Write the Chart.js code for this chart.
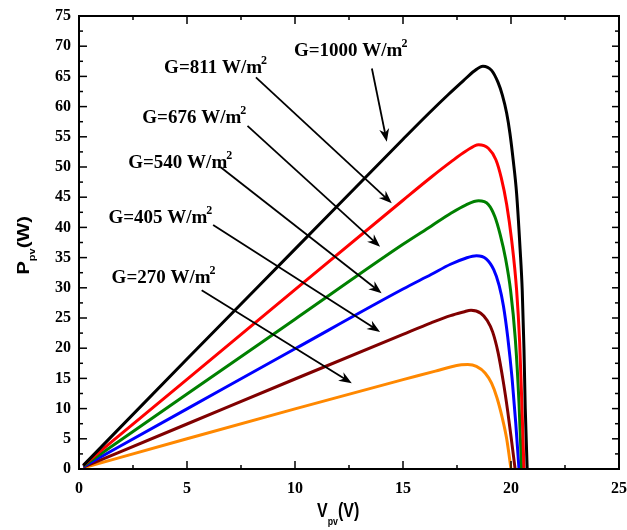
<!DOCTYPE html>
<html><head><meta charset="utf-8">
<script src="https://cdn.jsdelivr.net/npm/chart.js@4.4.0/dist/chart.umd.min.js"></script>
<style>html,body{margin:0;padding:0;background:#fff}canvas{display:block}</style>
</head><body>
<canvas id="c" width="627" height="530"></canvas>
<script>
// ---- tick labels ----
const xTicks = [0, 5, 10, 15, 20, 25];
const yTicks = [0, 5, 10, 15, 20, 25, 30, 35, 40, 45, 50, 55, 60, 65, 70, 75];

// ---- series: irradiance labels ----
const seriesNames = ['G=1000 W/m', 'G=811 W/m', 'G=676 W/m', 'G=540 W/m', 'G=405 W/m', 'G=270 W/m'];

// ---- series values (Vpv in V, Ppv in W) ----
const v1000 = [0.2, 5, 10, 15, 16.2, 17.1, 17.8, 18.3, 18.7, 19.1, 19.4, 19.6, 19.8, 19.95, 20.1, 20.26, 20.42, 20.52, 20.6, 20.66, 20.75];
const p1000 = [0.6, 18.2, 36.4, 54.6, 58.9, 62.0, 64.3, 65.9, 66.7, 66.0, 64.0, 61.9, 58.9, 55.6, 51.2, 45.6, 36.5, 29.6, 20.0, 10.0, 0];

const v811 = [0.2, 5, 10, 15, 16.3, 17.2, 17.9, 18.5, 18.95, 19.3, 19.55, 19.8, 20.03, 20.26, 20.4, 20.5, 20.6];
const p811 = [0.6, 14.85, 29.7, 44.5, 48.3, 50.8, 52.6, 53.7, 53.1, 51.2, 48.2, 43.8, 37.9, 29.6, 21.0, 11.0, 0];

const v676 = [0.2, 5, 10, 15, 16.3, 17.2, 17.9, 18.5, 18.95, 19.25, 19.5, 19.75, 19.98, 20.2, 20.37, 20.49];
const p676 = [0.5, 12.4, 24.8, 37.2, 40.2, 42.3, 43.7, 44.4, 43.8, 41.8, 38.8, 34.8, 29.6, 21.5, 11.0, 0];

const v540 = [0.2, 5, 10, 15, 16.3, 17.2, 17.9, 18.4, 18.85, 19.2, 19.45, 19.65, 19.85, 20.05, 20.22, 20.37];
const p540 = [0.4, 9.95, 19.9, 29.8, 32.2, 33.9, 34.9, 35.3, 34.8, 33.0, 30.4, 27.0, 21.8, 15.0, 7.6, 0];

const v405 = [0.2, 5, 10, 15, 16.3, 17.2, 17.8, 18.15, 18.6, 18.9, 19.15, 19.4, 19.65, 19.85, 20.05, 20.19];
const p405 = [0.3, 7.45, 14.9, 22.3, 24.2, 25.4, 26.0, 26.3, 25.8, 24.6, 22.7, 19.3, 14.3, 9.5, 4.0, 0];

const v270 = [0.2, 5, 10, 15, 16.5, 17.2, 17.7, 18.0, 18.4, 18.8, 19.1, 19.35, 19.6, 19.8, 20.0];
const p270 = [0.2, 5.0, 9.95, 14.8, 16.2, 16.9, 17.25, 17.3, 17.0, 15.9, 14.2, 11.8, 8.4, 5.0, 0];

const seriesV = [v1000, v811, v676, v540, v405, v270];
const seriesP = [p1000, p811, p676, p540, p405, p270];
const seriesColors = ['#000000', '#ff0000', '#008000', '#0000ff', '#800000', '#ff8800'];

// ---- annotations (data coordinates) ----
const labelAt = [[9.95, 68.4], [3.94, 65.5], [2.93, 57.3], [2.28, 49.9], [1.36, 40.7], [1.51, 30.8]];
const arrowFrom = [[13.56, 66.3], [8.19, 64.85], [7.80, 56.8], [6.56, 49.95], [6.21, 40.4], [5.68, 29.6]];
const arrowTo = [[14.25, 54.2], [14.48, 44.0], [13.94, 36.8], [14.01, 29.1], [13.94, 22.7], [12.63, 14.2]];

const datasets = seriesV.map((vs, i) => ({
  label: seriesNames[i] + '2',
  data: vs.map((v, j) => ({ x: v, y: seriesP[i][j] })),
  showLine: true,
  borderColor: seriesColors[i],
  backgroundColor: seriesColors[i],
  borderWidth: 3,
  pointRadius: 0,
  cubicInterpolationMode: 'monotone',
  fill: false
}));

const serifBold = (s) => 'bold ' + s + 'px "Liberation Serif", "Times New Roman", serif';
const sansBold = (s) => 'bold ' + s + 'px "Liberation Sans", Arial, sans-serif';

const framePlugin = {
  id: 'frame',
  afterDatasetsDraw(chart) {
    const { ctx, chartArea: a, scales: { x, y } } = chart;
    ctx.save();
    ctx.strokeStyle = '#000';
    ctx.fillStyle = '#000';
    ctx.lineWidth = 1.5;
    ctx.lineCap = 'butt';
    const tick = (x1, y1, x2, y2) => { ctx.beginPath(); ctx.moveTo(x1, y1); ctx.lineTo(x2, y2); ctx.stroke(); };
    // x ticks (bottom and top, inward)
    xTicks.forEach((v, i) => {
      const px = x.getPixelForValue(v);
      tick(px, a.bottom, px, a.bottom - 8);
      tick(px, a.top, px, a.top + 8);
      if (i < xTicks.length - 1) {
        const pm = x.getPixelForValue((v + xTicks[i + 1]) / 2);
        tick(pm, a.bottom, pm, a.bottom - 4);
        tick(pm, a.top, pm, a.top + 4);
      }
    });
    yTicks.forEach((v, i) => {
      const py = y.getPixelForValue(v);
      tick(a.left, py, a.left + 8, py);
      tick(a.right, py, a.right - 7, py);
      if (i < yTicks.length - 1) {
        const pm = y.getPixelForValue((v + yTicks[i + 1]) / 2);
        tick(a.left, pm, a.left + 4, pm);
        tick(a.right, pm, a.right - 4, pm);
      }
    });
    ctx.lineWidth = 2;
    ctx.strokeRect(a.left, a.top, a.right - a.left, a.bottom - a.top);

    // arrows
    ctx.lineWidth = 1.8;
    arrowFrom.forEach((f, i) => {
      const x1 = x.getPixelForValue(f[0]), y1 = y.getPixelForValue(f[1]);
      const x2 = x.getPixelForValue(arrowTo[i][0]), y2 = y.getPixelForValue(arrowTo[i][1]);
      const ang = Math.atan2(y2 - y1, x2 - x1);
      const L = 13, W = 5;
      const bx = x2 - L * Math.cos(ang), by = y2 - L * Math.sin(ang);
      tick(x1, y1, x2 - 8 * Math.cos(ang), y2 - 8 * Math.sin(ang));
      ctx.beginPath();
      ctx.moveTo(x2, y2);
      ctx.lineTo(bx + W * Math.sin(ang), by - W * Math.cos(ang));
      ctx.lineTo(x2 - 9 * Math.cos(ang), y2 - 9 * Math.sin(ang));
      ctx.lineTo(bx - W * Math.sin(ang), by + W * Math.cos(ang));
      ctx.closePath();
      ctx.fill();
    });

    // labels
    ctx.textAlign = 'left';
    ctx.textBaseline = 'alphabetic';
    labelAt.forEach((p, i) => {
      const px = x.getPixelForValue(p[0]), py = y.getPixelForValue(p[1]);
      ctx.font = serifBold(19);
      ctx.fillText(seriesNames[i], px, py);
      const w = ctx.measureText(seriesNames[i]).width;
      ctx.font = serifBold(12);
      ctx.fillText('2', px + w - 1, py - 9);
    });

    // x axis title  V_pv(V)
    const cx = (a.left + a.right) / 2;
    ctx.save();
    ctx.translate(cx - 32, a.bottom + 48);
    ctx.scale(0.8, 1);
    ctx.font = sansBold(20);
    ctx.fillText('V', 0, 0);
    let w1 = ctx.measureText('V').width;
    ctx.font = sansBold(11);
    ctx.fillText('pv', w1, 8);
    let w2 = ctx.measureText('pv').width;
    ctx.font = sansBold(20);
    ctx.fillText('(V)', w1 + w2, 0);
    ctx.restore();

    // y axis title  P_pv(W)
    const cy = (a.top + a.bottom) / 2;
    ctx.save();
    ctx.translate(29, cy + 32);
    ctx.rotate(-Math.PI / 2);
    ctx.scale(1, 0.78);
    ctx.font = sansBold(20);
    ctx.fillText('P', 0, 0);
    w1 = ctx.measureText('P').width;
    ctx.font = sansBold(11);
    ctx.fillText('pv', w1, 8);
    w2 = ctx.measureText('pv').width;
    ctx.font = sansBold(20);
    ctx.fillText('(W)', w1 + w2, 0);
    ctx.restore();

    ctx.restore();
  }
};

new Chart(document.getElementById('c'), {
  type: 'scatter',
  data: { datasets },
  options: {
    responsive: false,
    animation: false,
    devicePixelRatio: 1,
    layout: { padding: { top: 16, right: 8, left: 0, bottom: 0 } },
    plugins: { legend: { display: false }, tooltip: { enabled: false } },
    scales: {
      x: {
        type: 'linear', min: 0, max: 25,
        afterBuildTicks: (s) => { s.ticks = xTicks.map(v => ({ value: v })); },
        ticks: { font: { family: '"Liberation Serif", "Times New Roman", serif', size: 16, weight: 'bold' }, color: '#000', padding: 10, maxRotation: 0, autoSkip: false },
        grid: { display: false, drawTicks: false },
        border: { display: false },
        afterFit: (s) => { s.height = 61; s.paddingLeft = 0; s.paddingRight = 0; }
      },
      y: {
        type: 'linear', min: 0, max: 75,
        afterBuildTicks: (s) => { s.ticks = yTicks.map(v => ({ value: v })); },
        ticks: { font: { family: '"Liberation Serif", "Times New Roman", serif', size: 16, weight: 'bold' }, color: '#000', padding: 8, autoSkip: false },
        grid: { display: false, drawTicks: false },
        border: { display: false },
        afterFit: (s) => { s.width = 79; s.paddingTop = 0; s.paddingBottom = 0; }
      }
    }
  },
  plugins: [framePlugin]
});
</script>
</body></html>
